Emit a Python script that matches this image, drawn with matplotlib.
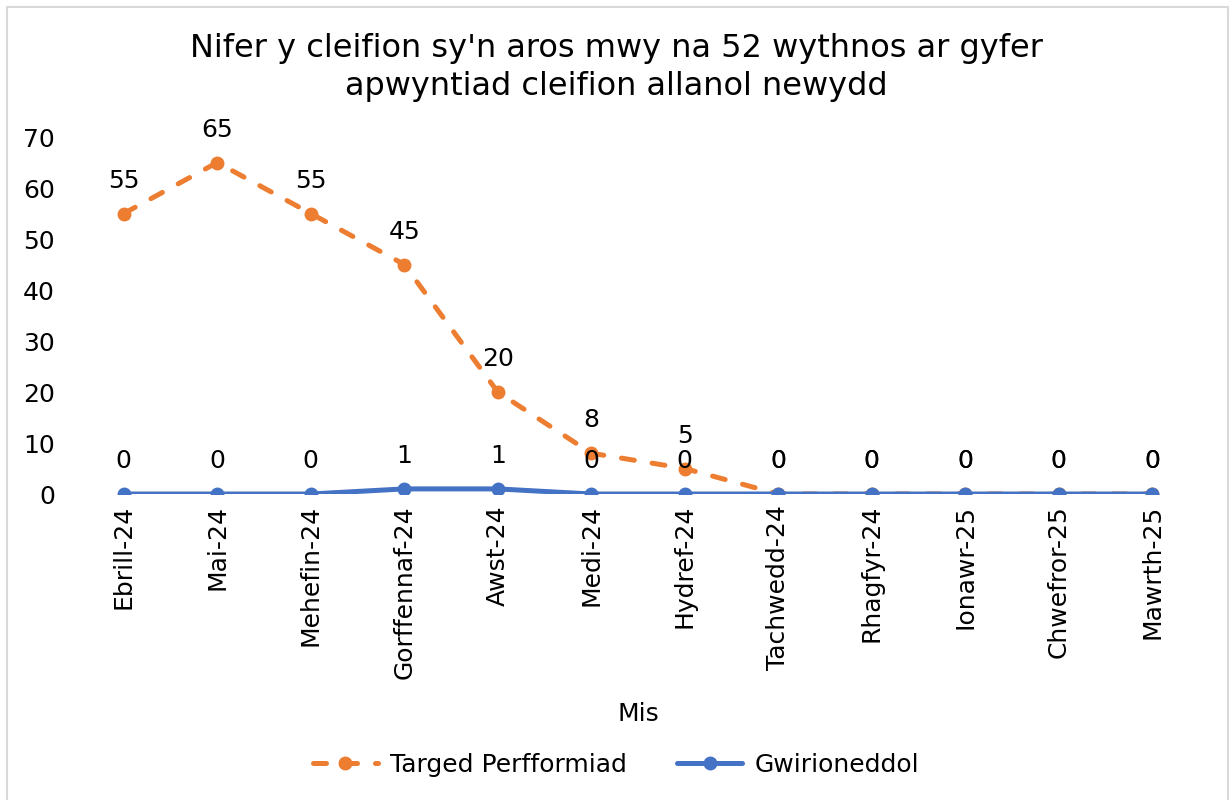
import matplotlib
matplotlib.use("Agg")
import matplotlib.pyplot as plt
from matplotlib.patches import Rectangle

months = ["Ebrill-24", "Mai-24", "Mehefin-24", "Gorffennaf-24", "Awst-24", "Medi-24",
          "Hydref-24", "Tachwedd-24", "Rhagfyr-24", "Ionawr-25", "Chwefror-25", "Mawrth-25"]
target = [55, 65, 55, 45, 20, 8, 5, 0, 0, 0, 0, 0]
actual = [0, 0, 0, 1, 1, 0, 0, 0, 0, 0, 0, 0]

orange = "#ED7D31"
blue = "#4472C4"

plt.rcParams['font.family'] = ['DejaVu Sans']

fig = plt.figure(figsize=(12.32, 8), dpi=100)
fig.patches.append(Rectangle((7/1232, -0.01), (1228-7)/1232, 1 - 7/800 + 0.01,
                             transform=fig.transFigure, fill=False,
                             edgecolor="#D9D9D9", linewidth=1.5))

ax = fig.add_axes([77/1232, 1 - 494/800, (1199-77)/1232, (494-137)/800])
x = list(range(len(months)))

ax.plot(x, target, color=orange, linestyle=(0, (2.6, 3.6)), linewidth=3.6,
        dash_capstyle='round', marker='o', markersize=9,
        label="Targed Perfformiad", zorder=3)
ax.plot(x, actual, color=blue, linewidth=3.6, marker='o', markersize=9,
        solid_capstyle='round', label="Gwirioneddol", zorder=4)

for xi, v in zip(x, target):
    ax.annotate(str(v), (xi, v), xytext=(0, 15), textcoords='offset points',
                ha='center', va='bottom', fontsize=18, color='#000000')
for xi, v in zip(x, actual):
    ax.annotate(str(v), (xi, v), xytext=(0, 15), textcoords='offset points',
                ha='center', va='bottom', fontsize=18, color='#000000')

ax.set_xlim(-0.5, len(months) - 0.5)
ax.set_ylim(0, 70)
ax.set_yticks(range(0, 71, 10))
ax.set_xticks(x)
ax.set_xticklabels(months, rotation=90, fontsize=18)
ax.tick_params(axis='y', labelsize=18, length=0, pad=16)
ax.tick_params(axis='x', length=0, pad=8)
for s in ax.spines.values():
    s.set_visible(False)

ax.set_xlabel("Mis", fontsize=18, labelpad=17)
fig.text(0.5, 1 - 67.5/800, "Nifer y cleifion sy'n aros mwy na 52 wythnos ar gyfer\napwyntiad cleifion allanol newydd",
         ha='center', va='center', fontsize=23, linespacing=1.27)

fig.legend(loc='center', bbox_to_anchor=(0.5, 1 - 765/800), ncol=2, frameon=False,
           fontsize=18, handlelength=2.6, handletextpad=0.5, columnspacing=2.0)

fig.savefig("out.png", dpi=100)
